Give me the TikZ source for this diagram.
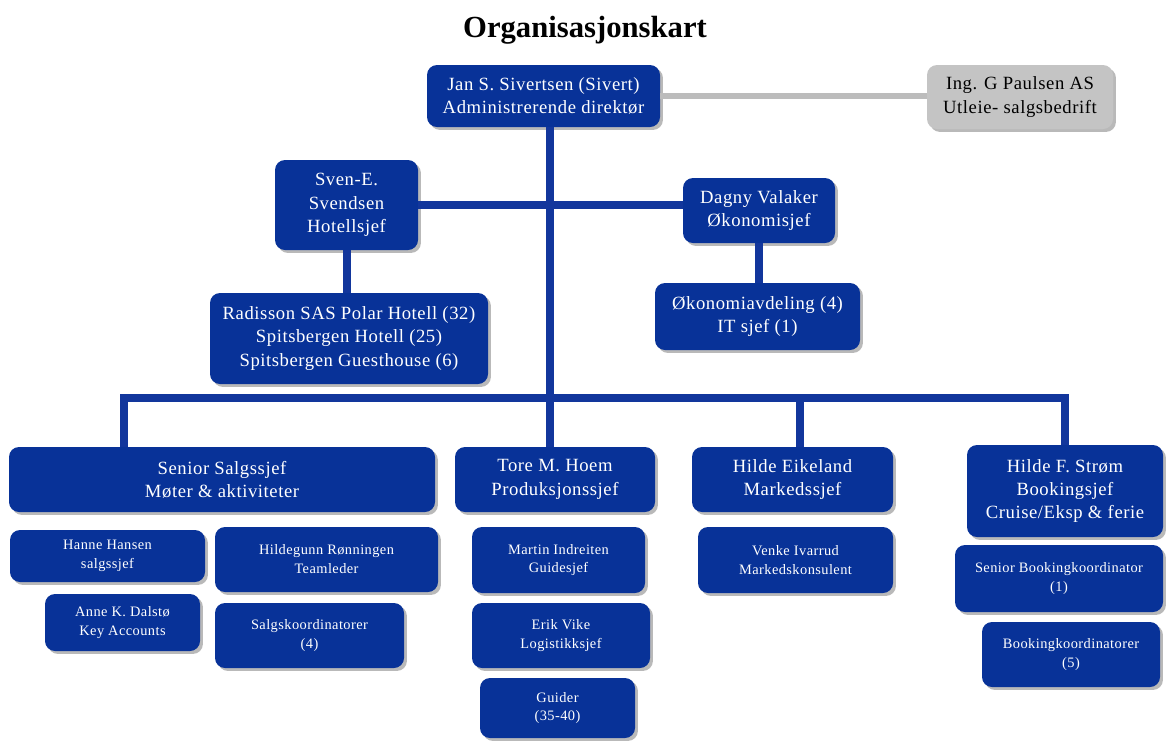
\documentclass[tikz,border=0pt]{standalone}
\usepackage{fontspec}
\setmainfont{Liberation Serif}[LetterSpace=3]
\newfontfamily\titlefont{Liberation Serif}
\usetikzlibrary{shadows}
\definecolor{boxblue}{RGB}{8,50,152}
\definecolor{lineblue}{RGB}{18,54,156}
\definecolor{boxgrey}{RGB}{196,196,196}
\definecolor{linegrey}{RGB}{188,188,188}
% \bx{name}{x1}{y1}{x2}{y2}{style}{text}
\newcommand\bx[7]{\node[#6, minimum width={(#4-#2)*0.75pt}, minimum height={(#5-#3)*0.75pt}] (#1) at ({(#2+#4)/2},{(#3+#5)/2}) {#7};}
\begin{document}
\begin{tikzpicture}[x=0.75pt,y=-0.75pt,
  box/.style={rounded corners=7.5pt, fill=boxblue, text=white, inner sep=0pt, align=center,
    drop shadow={shadow xshift=2.2pt, shadow yshift=-2.2pt, fill=black!50, opacity=0.55}},
  greybox/.style={box, fill=boxgrey, text=black},
  big/.style={font=\fontsize{14}{17.5}\selectfont},
  small/.style={font=\fontsize{10.8}{14.2}\selectfont},
  conn/.style={draw=lineblue, line width=6pt, line join=miter},
  greyconn/.style={draw=linegrey, line width=5pt}]
\useasboundingbox (0,0) rectangle (1169,744);

\node[font=\titlefont\bfseries\fontsize{23}{27}\selectfont] (title) at (585,30) {Organisasjonskart};

% top level
\bx{top}{427}{65}{660}{127}{box,big}{Jan S. Sivertsen (Sivert)\\Administrerende direktør}
\bx{grey}{927}{65}{1113}{129}{greybox,big}{Ing. G Paulsen AS\\Utleie- salgsbedrift}

% staff level
\bx{sven}{275}{160}{418}{250}{box,big}{Sven-E.\\Svendsen\\Hotellsjef}
\bx{dagny}{683}{178}{835}{243}{box,big}{Dagny Valaker\\Økonomisjef}
\bx{rad}{210}{293}{488}{384}{box,big}{Radisson SAS Polar Hotell (32)\\Spitsbergen Hotell (25)\\Spitsbergen Guesthouse (6)}
\bx{oko}{655}{283}{860}{350}{box,big}{Økonomiavdeling (4)\\IT sjef (1)}

% department heads
\bx{senior}{9}{447}{435}{512}{box,big}{Senior Salgssjef\\Møter \& aktiviteter}
\bx{tore}{455}{447}{655}{512}{box,big}{Tore M. Hoem\\Produksjonssjef}
\bx{eik}{692}{447}{893}{512}{box,big}{Hilde Eikeland\\Markedssjef}
\bx{strom}{967}{445}{1163}{537}{box,big}{Hilde F. Strøm\\Bookingsjef\\Cruise/Eksp \& ferie}

% sub units
\bx{hanne}{10}{530}{205}{582}{box,small}{Hanne Hansen\\salgssjef}
\bx{hildeg}{215}{527}{438}{592}{box,small}{Hildegunn Rønningen\\Teamleder}
\bx{anne}{45}{594}{200}{651}{box,small}{Anne K. Dalstø\\Key Accounts}
\bx{salgsk}{215}{603}{404}{668}{box,small}{Salgskoordinatorer\\(4)}
\bx{martin}{472}{527}{645}{593}{box,small}{Martin Indreiten\\Guidesjef}
\bx{erik}{472}{603}{650}{668}{box,small}{Erik Vike\\Logistikksjef}
\bx{guider}{480}{678}{635}{738}{box,small}{Guider\\(35-40)}
\bx{venke}{698}{527}{893}{593}{box,small}{Venke Ivarrud\\Markedskonsulent}
\bx{sbk}{955}{545}{1163}{612}{box,small}{Senior Bookingkoordinator\\(1)}
\bx{bk}{982}{622}{1160}{687}{box,small}{Bookingkoordinatorer\\(5)}

% connectors
\coordinate (bus1) at (124,398);
\coordinate (bus2) at (550,398);
\coordinate (bus3) at (800,398);
\coordinate (bus4) at (1065,398);

\draw[greyconn] (top.east) -- (top.east -| grey.west);
\draw[conn] (bus2 |- top.south) -- (bus2);
\draw[conn] (sven.east) -- (sven.east -| dagny.west);
\draw[conn] (sven.south) -- (sven.south |- rad.north);
\draw[conn] (dagny.south) -- (dagny.south |- oko.north);
\draw[conn] (senior.north -| bus1) -- (bus1) -- (bus4) -- (bus4 |- strom.north);
\draw[conn] (bus2) -- (bus2 |- tore.north);
\draw[conn] (bus3) -- (bus3 |- eik.north);
\end{tikzpicture}
\end{document}
